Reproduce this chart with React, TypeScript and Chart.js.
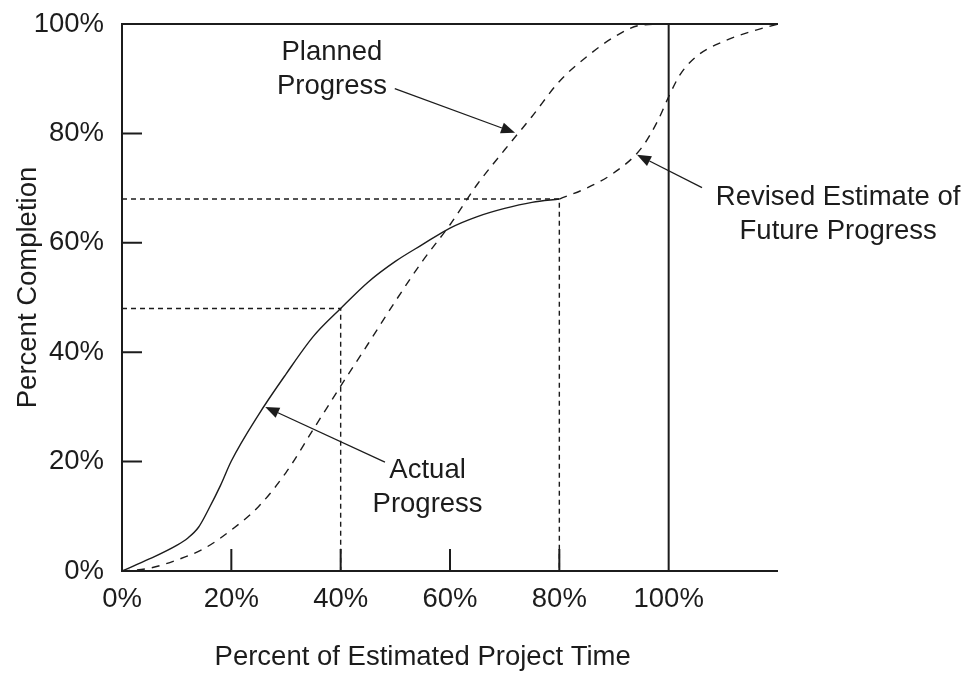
import React, { useEffect, useRef } from "react";
import { Chart, registerables } from "chart.js";

Chart.register(...registerables);

const FONT_FAMILY = '"Liberation Sans", Arial, Helvetica, sans-serif';
const FONT_SIZE = 27.5;
const INK = "#1c1c1c";

// Planned Progress (dashed S-curve)
const plannedX = [0, 5, 10, 15, 20, 25, 30, 35, 40, 45, 50, 55, 60, 65, 70, 75, 80, 85, 90, 95, 100];
const plannedY = [0, 0.5, 2, 4.1, 7.5, 11.8, 18, 25.9, 33.8, 41.5, 49.3, 56.7, 63.3, 70.7, 77, 83.1, 89.5, 94, 97.6, 99.8, 100];

// Actual Progress (solid)
const actualX = [0, 5, 10, 12, 14, 16, 18, 20, 25, 30, 35, 40, 45, 50, 55, 60, 65, 70, 75, 80];
const actualY = [0, 2.2, 4.7, 6, 8, 11.6, 15.6, 20.1, 28.6, 36, 42.9, 48, 52.8, 56.6, 59.7, 62.7, 64.8, 66.3, 67.4, 68];

// Revised Estimate of Future Progress (dashed)
const revisedX = [80, 85, 90, 95, 98, 100, 102, 105, 110, 115, 120];
const revisedY = [68, 70, 72.8, 77.3, 82.3, 86.7, 90.6, 94, 96.8, 98.6, 100];

// Status points marked with dashed guide lines
const statusX = [40, 80];
const statusY = [48, 68];

// Axis ticks
const xTickValues = [0, 20, 40, 60, 80, 100];
const yTickValues = [0, 20, 40, 60, 80, 100];
const X_MIN = 0;
const X_MAX = 120;
const Y_MIN = 0;
const Y_MAX = 100;
const projectEndX = 100;

// Annotations (in data units)
const annotationLines = [
  ["Planned", "Progress"],
  ["Actual", "Progress"],
  ["Revised Estimate of", "Future Progress"],
];
const annotationTextX = [38.4, 55.9, 131.0];
const annotationTextY = [93.5, 17.0, 66.9];
const arrowFromX = [49.9, 48.1, 106.1];
const arrowFromY = [88.2, 19.9, 70.1];
const arrowToX = [71.9, 26.2, 94.2];
const arrowToY = [80.1, 30.0, 76.1];

const xTitle = "Percent of Estimated Project Time";
const yTitle = "Percent Completion";

function pts(xs: number[], ys: number[]) {
  return xs.map((x, i) => ({ x, y: ys[i] }));
}

const framePlugin = {
  id: "framePlugin",
  afterDatasetsDraw(chart: any) {
    const { ctx, chartArea, scales } = chart;
    const xs = scales.x;
    const ys = scales.y;
    const { left, right, top, bottom } = chartArea;
    ctx.save();
    ctx.strokeStyle = INK;
    ctx.lineWidth = 2;
    ctx.setLineDash([]);
    ctx.beginPath();
    // left axis
    ctx.moveTo(left, top - 1);
    ctx.lineTo(left, bottom + 1);
    // bottom axis
    ctx.moveTo(left - 1, bottom);
    ctx.lineTo(right, bottom);
    // top line
    ctx.moveTo(left - 1, top);
    ctx.lineTo(right, top);
    // project end line
    const ex = xs.getPixelForValue(projectEndX);
    ctx.moveTo(ex, top);
    ctx.lineTo(ex, bottom);
    // inward ticks
    yTickValues.forEach((v) => {
      if (v === Y_MIN || v === Y_MAX) return;
      const py = ys.getPixelForValue(v);
      ctx.moveTo(left, py);
      ctx.lineTo(left + 20, py);
    });
    xTickValues.forEach((v) => {
      if (v === X_MIN || v === projectEndX) return;
      const px = xs.getPixelForValue(v);
      ctx.moveTo(px, bottom);
      ctx.lineTo(px, bottom - 22);
    });
    ctx.stroke();

    // annotations
    ctx.font = `${FONT_SIZE}px ${FONT_FAMILY}`;
    ctx.fillStyle = INK;
    ctx.textAlign = "center";
    ctx.textBaseline = "alphabetic";
    annotationLines.forEach((lines, i) => {
      const cx = xs.getPixelForValue(annotationTextX[i]);
      const by = ys.getPixelForValue(annotationTextY[i]);
      lines.forEach((t, j) => ctx.fillText(t, cx, by + j * 34));
    });

    ctx.lineWidth = 1.3;
    annotationLines.forEach((_, i) => {
      const x1 = xs.getPixelForValue(arrowFromX[i]);
      const y1 = ys.getPixelForValue(arrowFromY[i]);
      const x2 = xs.getPixelForValue(arrowToX[i]);
      const y2 = ys.getPixelForValue(arrowToY[i]);
      const ang = Math.atan2(y2 - y1, x2 - x1);
      const headLen = 14;
      const headW = 5.5;
      const bx = x2 - headLen * Math.cos(ang);
      const by = y2 - headLen * Math.sin(ang);
      ctx.beginPath();
      ctx.moveTo(x1, y1);
      ctx.lineTo(bx, by);
      ctx.stroke();
      ctx.beginPath();
      ctx.moveTo(x2, y2);
      ctx.lineTo(bx + headW * Math.sin(ang), by - headW * Math.cos(ang));
      ctx.lineTo(bx - headW * Math.sin(ang), by + headW * Math.cos(ang));
      ctx.closePath();
      ctx.fill();
    });

    // axis titles
    ctx.textAlign = "center";
    ctx.textBaseline = "alphabetic";
    ctx.fillText(xTitle, xs.getPixelForValue(55), bottom + 94);
    ctx.translate(36, (top + bottom) / 2 - 10);
    ctx.rotate(-Math.PI / 2);
    ctx.fillText(yTitle, 0, 0);
    ctx.restore();
  },
};

export default function App() {
  const canvasRef = useRef<HTMLCanvasElement | null>(null);

  useEffect(() => {
    const canvas = canvasRef.current;
    if (!canvas) return;
    const guideData = statusX.map((x, i) => [
      { x: X_MIN, y: statusY[i] },
      { x, y: statusY[i] },
      { x, y: Y_MIN },
    ]);
    const chart = new Chart(canvas, {
      type: "line",
      data: {
        datasets: [
          ...guideData.map((d, i) => ({
            label: `Status ${i + 1}`,
            data: d,
            borderColor: INK,
            borderWidth: 1.4,
            borderDash: [5, 4],
            pointRadius: 0,
            tension: 0,
            clip: false as any,
          })),
          {
            label: "Planned Progress",
            data: pts(plannedX, plannedY),
            borderColor: INK,
            borderWidth: 1.4,
            borderDash: [8, 7],
            pointRadius: 0,
            cubicInterpolationMode: "monotone" as const,
            clip: false as any,
          },
          {
            label: "Actual Progress",
            data: pts(actualX, actualY),
            borderColor: INK,
            borderWidth: 1.4,
            pointRadius: 0,
            cubicInterpolationMode: "monotone" as const,
            clip: false as any,
          },
          {
            label: "Revised Estimate of Future Progress",
            data: pts(revisedX, revisedY),
            borderColor: INK,
            borderWidth: 1.4,
            borderDash: [8, 7],
            pointRadius: 0,
            cubicInterpolationMode: "monotone" as const,
            clip: false as any,
          },
        ],
      },
      options: {
        animation: false,
        responsive: false,
        maintainAspectRatio: false,
        devicePixelRatio: 1,
        layout: { padding: { left: 0, top: 24, right: 191, bottom: 0 } },
        plugins: {
          legend: { display: false },
          tooltip: { enabled: false },
        },
        events: [],
        scales: {
          x: {
            type: "linear",
            min: X_MIN,
            max: X_MAX,
            afterFit: (s: any) => {
              s.height = 102;
              s.paddingLeft = 0;
              s.paddingRight = 0;
            },
            afterBuildTicks: (s: any) => {
              s.ticks = xTickValues.map((v) => ({ value: v }));
            },
            ticks: {
              autoSkip: false,
              maxRotation: 0,
              padding: 12,
              color: INK,
              font: { family: FONT_FAMILY, size: FONT_SIZE },
              callback: (v: any) => `${v}%`,
            },
            grid: { display: false, drawTicks: false },
            border: { display: false },
          },
          y: {
            type: "linear",
            min: Y_MIN,
            max: Y_MAX,
            afterFit: (s: any) => {
              s.width = 122;
              s.paddingTop = 0;
              s.paddingBottom = 0;
            },
            afterBuildTicks: (s: any) => {
              s.ticks = yTickValues.map((v) => ({ value: v }));
            },
            ticks: {
              autoSkip: false,
              padding: 18,
              color: INK,
              font: { family: FONT_FAMILY, size: FONT_SIZE },
              callback: (v: any) => `${v}%`,
            },
            grid: { display: false, drawTicks: false },
            border: { display: false },
          },
        },
      } as any,
      plugins: [framePlugin],
    });
    return () => chart.destroy();
  }, []);

  return (
    <div style={{ position: "absolute", left: 0, top: 0, width: 969, height: 673, background: "#fff" }}>
      <canvas ref={canvasRef} width={969} height={673} style={{ width: 969, height: 673, display: "block" }} />
    </div>
  );
}
